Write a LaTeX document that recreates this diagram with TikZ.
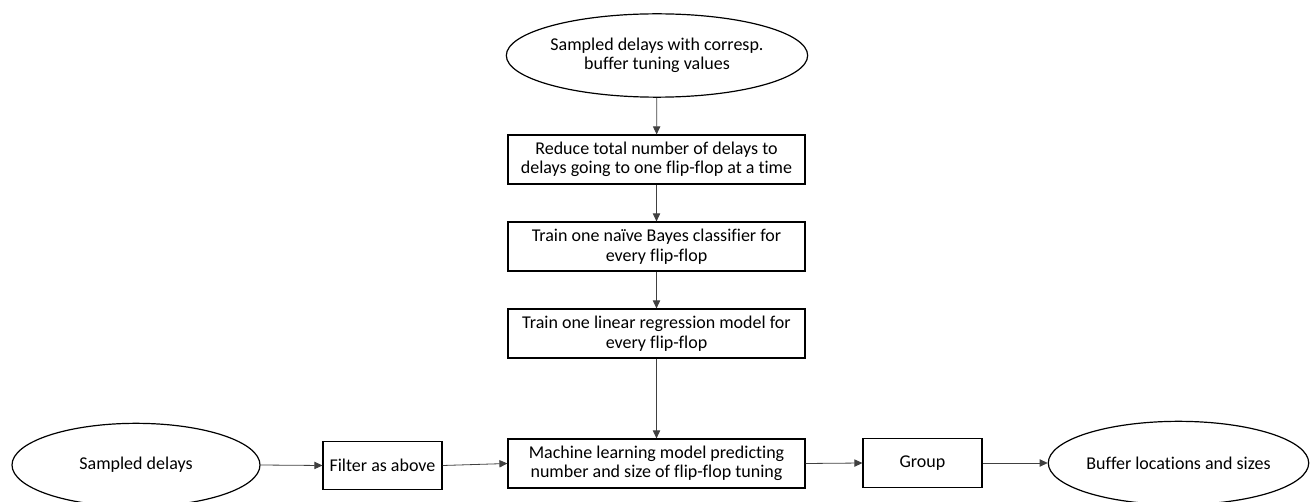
\documentclass[tikz,border=0pt]{standalone}
\usepackage{fontspec}
\setmainfont{Carlito}[Ligatures=NoCommon]
\usetikzlibrary{shapes.geometric,arrows.meta}
\begin{document}
\begin{tikzpicture}[x=0.75pt,y=-0.75pt,
  every node/.style={font=\fontsize{13.5}{14.6}\selectfont, align=center, inner sep=0pt},
  box/.style={draw, line width=0.9pt, minimum width=222.75pt, minimum height=36.75pt},
  smallbox/.style={draw, line width=0.9pt, minimum width=89.25pt, minimum height=36.5pt},
  ell/.style={draw, ellipse, line width=0.9pt, minimum width=188pt, minimum height=62.5pt},
  arr/.style={-{Triangle[length=6pt,width=5.5pt]}, line width=0.6pt, draw=black!75}
]
\useasboundingbox (0,0) rectangle (1311,502);

\node[ell] (src) at (657,55.5) {Sampled delays with corresp.\\buffer tuning values};
\node[box] (reduce) at (656.5,159.5) {Reduce total number of delays to\\delays going to one flip-flop at a time};
\node[box] (bayes) at (656.5,246.5) {Train one na\"ive Bayes classifier for\\every flip-flop};
\node[box] (linreg) at (656.5,333.5) {Train one linear regression model for\\every flip-flop};
\node[box] (ml) at (656.5,463.5) {Machine learning model predicting\\number and size of flip-flop tuning};
\node[ell, minimum width=186pt] (sampled) at (136,465) {Sampled delays};
\node[smallbox] (filter) at (382.5,465.5) {Filter as above};
\node[smallbox] (group) at (922.5,463) {Group};
\node[ell] (buffer) at (1178.5,463) {Buffer locations and sizes};

\draw[arr] (src) -- (reduce);
\draw[arr] (reduce) -- (bayes);
\draw[arr] (bayes) -- (linreg);
\draw[arr] (linreg) -- (ml);
\draw[arr] (sampled.east) -- (filter.west);
\draw[arr] (filter.east) -- (ml.west);
\draw[arr] (ml.east) -- (group.west);
\draw[arr] (group.east) -- (buffer.west);
\end{tikzpicture}
\end{document}
